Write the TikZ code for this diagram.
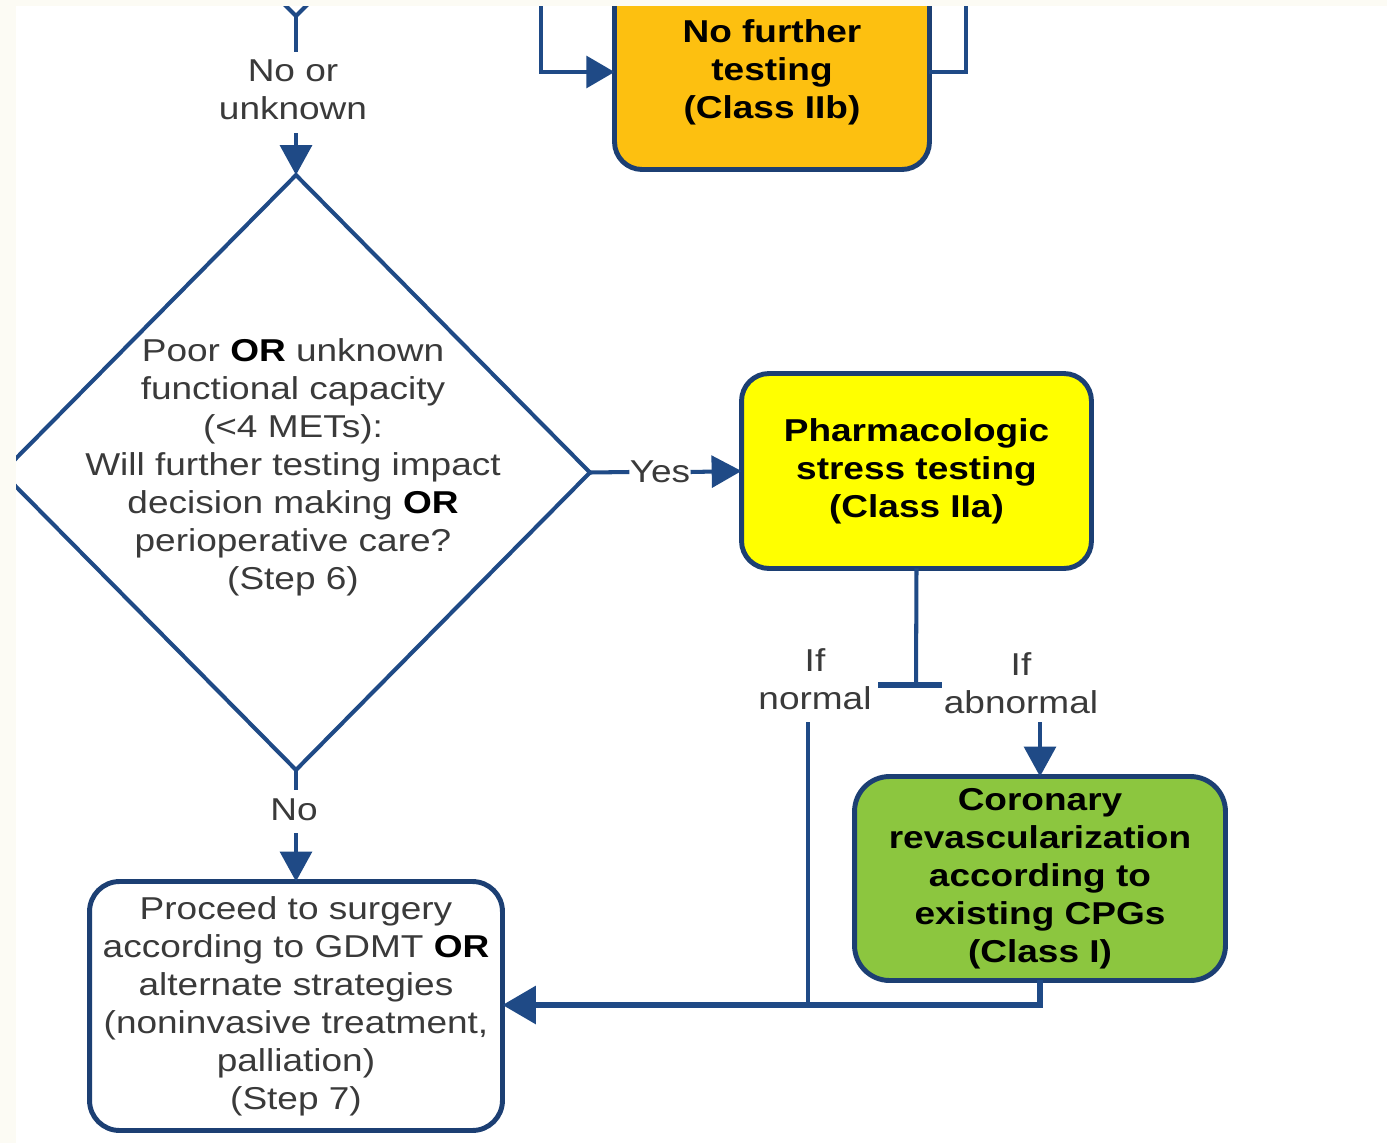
\documentclass[tikz,border=0pt]{standalone}
\usepackage{fontspec}
\setmainfont{Liberation Sans}[FakeStretch=1.17]
\usetikzlibrary{arrows.meta,shapes.geometric}

\definecolor{navy}{HTML}{1F4A86}
\definecolor{boxline}{HTML}{1C3F73}
\definecolor{pharmyellow}{HTML}{FFFF00}
\definecolor{revgreen}{HTML}{8CC63F}
\definecolor{notestorange}{HTML}{FDC010}
\definecolor{txtgray}{HTML}{3A3A3A}
\definecolor{edgecream}{HTML}{FCFBF4}

\newcommand{\flowsize}{\fontsize{18}{21.6}\selectfont}

\begin{document}
\begin{tikzpicture}[x=0.02cm,y=-0.02cm,
  conn/.style={draw=navy,line width=2.3pt},
  arr/.style={conn,-{Triangle[length=17pt,width=18pt]}},
  stepbox/.style={draw=boxline,line width=2.8pt,rounded corners=0.55cm,
    align=center,inner sep=0pt,outer sep=0pt,font=\flowsize\bfseries},
  lbl/.style={align=center,inner sep=1pt,text=txtgray,font=\flowsize},
  decision/.style={diamond,draw=navy,line width=2.3pt,inner sep=0pt,outer sep=0pt,
    minimum width=11.76cm,minimum height=11.9cm}]

\useasboundingbox (0,0) rectangle (1387,1143);
\clip (0,0) rectangle (1387,1143);
\fill[white] (0,0) rectangle (1387,1143);

% tail of the preceding decision
\coordinate (prevdec) at (296,16);
\coordinate (prevL) at (278,-2);
\coordinate (prevR) at (314,-2);
\draw[conn,line join=miter] (prevL) -- (prevdec) -- (prevR);

% boxes
\node[stepbox,fill=notestorange,minimum width=6.3cm,minimum height=3.9cm]
  (nft) at (772,72) {No further\\testing\\(Class IIb)};
\node[stepbox,fill=pharmyellow,minimum width=7.0cm,minimum height=3.9cm]
  (pharm) at (916.5,471) {Pharmacologic\\stress testing\\(Class IIa)};
\node[stepbox,fill=revgreen,minimum width=7.42cm,minimum height=4.08cm,rounded corners=0.7cm]
  (revasc) at (1040,878.5) {Coronary\\revascularization\\according to\\existing CPGs\\(Class I)};
\node[stepbox,fill=white,minimum width=8.26cm,minimum height=4.98cm,rounded corners=0.6cm,
  font=\flowsize\mdseries,text=txtgray]
  (proc) at (296,1006) {Proceed to surgery\\according to GDMT \textcolor{black}{\bfseries OR}\\alternate strategies\\(noninvasive treatment,\\palliation)\\(Step 7)};

% decision diamond
\node[decision] (dec) at (296,472.5) {};
\node[lbl,inner sep=0pt] (dectext) at (293,467)
  {Poor \textcolor{black}{\bfseries OR} unknown\\functional capacity\\(<4 METs):\\Will further testing impact\\decision making \textcolor{black}{\bfseries OR}\\perioperative care?\\(Step 6)};

% branch labels
\node[lbl,inner sep=0pt] (nou) at (293,90) {No or\\unknown};
\node[lbl,inner sep=0pt] (yes) at (660,472) {Yes};
\node[lbl,inner sep=0pt] (no) at (294,810) {No};
\node[lbl,inner sep=0pt] (ifn) at (815,679) {If\\normal};
\node[lbl,inner sep=0pt] (ifa) at (1021,683) {If\\abnormal};

% connectors
\coordinate (noutop) at (296,52);
\coordinate (noubot) at (296,133);
\coordinate (notop) at (296,790);
\coordinate (nobot) at (296,833);
\draw[conn] (prevdec) -- (noutop);
\draw[arr] (noubot) -- (dec.north);
\draw[conn] (dec.east) -- (yes.west);
\draw[conn,-{Triangle[length=17pt,width=18pt]}] (yes.east) -- (pharm.west);
\draw[conn] (dec.south) -- (notop);
\draw[arr] (nobot) -- (proc.north);

\coordinate (tee) at (916,685);
\coordinate (teeL) at (878,685);
\coordinate (teeR) at (942,685);
\draw[conn] (pharm.south) -- (tee);
\draw[conn,line width=3pt] (teeL) -- (teeR);

\coordinate (normtop) at (808,722);
\coordinate (join) at (808,1005);
\coordinate (abntop) at (1040,722);
\draw[conn] (normtop) -- (join);
\draw[arr] (abntop) -- (revasc.north);
\draw[conn,line width=3.6pt,-{Triangle[length=19pt,width=21pt]}]
  (revasc.south) |- (proc.east |- join);

% connectors around the orange box
\coordinate (ntl) at (541,-5);
\coordinate (ntr) at (966,-5);
\draw[conn,-{Triangle[length=16pt,width=18pt]}] (ntl) |- (nft.west);
\draw[conn] (nft.east) -| (ntr);

% cream page edges
\fill[edgecream] (0,0) rectangle (16,1143);
\fill[edgecream] (0,0) rectangle (1387,6);
\end{tikzpicture}
\end{document}
